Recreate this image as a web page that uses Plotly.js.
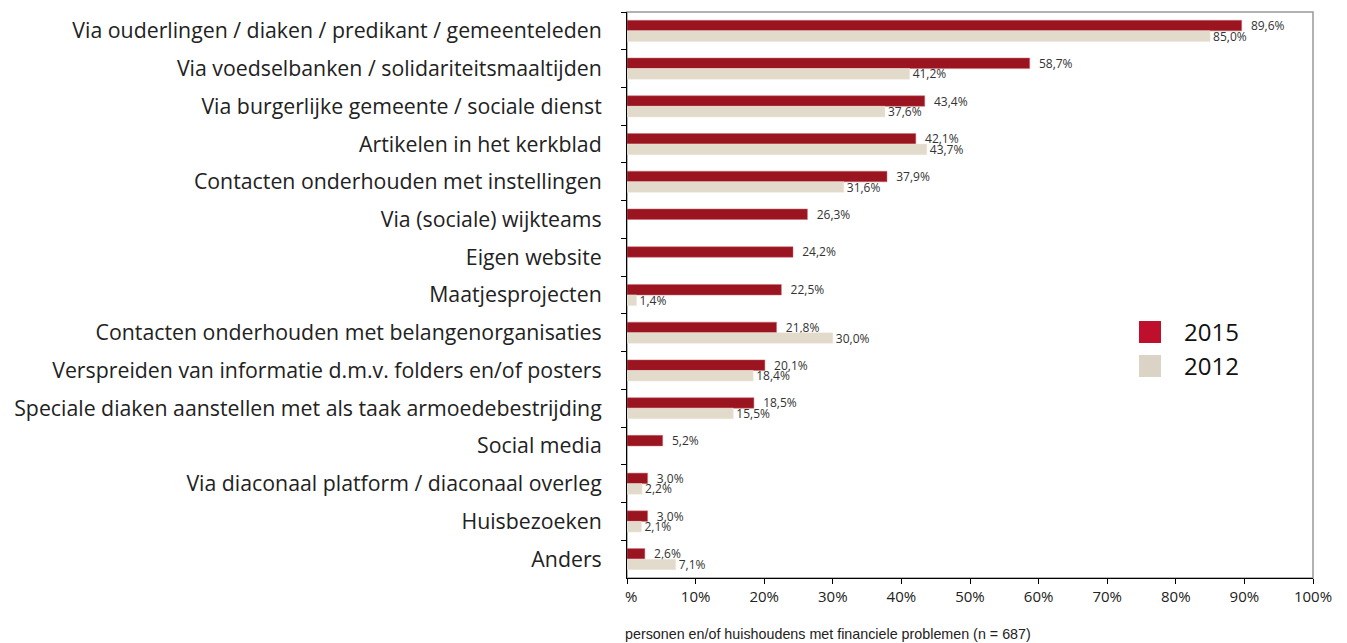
<!DOCTYPE html>
<html>
<head>
<meta charset="utf-8">
<script src="https://cdn.plot.ly/plotly-3.0.1.min.js"></script>
<style>html,body{margin:0;padding:0;background:#fff;}#chart{width:1347px;height:643px;}</style>
</head>
<body>
<div id="chart"></div>
<script>
const categories = [
  "Via ouderlingen / diaken / predikant / gemeenteleden",
  "Via voedselbanken / solidariteitsmaaltijden",
  "Via burgerlijke gemeente / sociale dienst",
  "Artikelen in het kerkblad",
  "Contacten onderhouden met instellingen",
  "Via (sociale) wijkteams",
  "Eigen website",
  "Maatjesprojecten",
  "Contacten onderhouden met belangenorganisaties",
  "Verspreiden van informatie d.m.v. folders en/of posters",
  "Speciale diaken aanstellen met als taak armoedebestrijding",
  "Social media",
  "Via diaconaal platform / diaconaal overleg",
  "Huisbezoeken",
  "Anders"
];
const values2015 = [89.6, 58.7, 43.4, 42.1, 37.9, 26.3, 24.2, 22.5, 21.8, 20.1, 18.5, 5.2, 3.0, 3.0, 2.6];
const values2012 = [85.0, 41.2, 37.6, 43.7, 31.6, null, null, 1.4, 30.0, 18.4, 15.5, null, 2.2, 2.1, 7.1];
const seriesNames = ["2015", "2012"];
const tickValues = [0, 10, 20, 30, 40, 50, 60, 70, 80, 90, 100];
const tickLabels = tickValues.map(v => v + "%");
const axisTitle = "personen en/of huishoudens met financiele problemen (n = 687)";

const red = "#9B1520", beige = "#E2DACB";
const W = 1347, H = 643, L = 627, R = 34, T = 12, B = 65;
const pw = W - L - R, ph = H - T - B;
const px = x => (x - L) / pw;
const py = y => 1 - (y - T) / ph;

const traces = [
  {type: "bar", orientation: "h", name: seriesNames[0], y: categories, x: values2015,
   marker: {color: red, line: {color: "#C96A70", width: 0.5}},
   texttemplate: "\u00a0\u00a0%{x:.1f}%", textposition: "outside", cliponaxis: false,
   constraintext: "none",
   textfont: {family: "Open Sans", size: 12, color: "#333"}, hoverinfo: "x+y"},
  {type: "bar", orientation: "h", name: seriesNames[1], y: categories, x: values2012,
   marker: {color: beige, line: {color: "#EDE7DC", width: 0.5}},
   texttemplate: "%{x:.1f}%", textposition: "outside", cliponaxis: false,
   constraintext: "none",
   textfont: {family: "Open Sans", size: 12, color: "#333"}, hoverinfo: "x+y"}
];

const layout = {
  width: W, height: H,
  margin: {l: L, r: R, t: T, b: B, pad: 0},
  paper_bgcolor: "#fff", plot_bgcolor: "#fff",
  separators: ",.",
  barmode: "group", bargap: 0.44, bargroupgap: 0,
  showlegend: false,
  font: {family: "Open Sans", color: "#222"},
  xaxis: {range: [0, 100], tickvals: tickValues, ticktext: tickLabels,
          showgrid: false, zeroline: false, showline: true, linecolor: "#000", linewidth: 1,
          ticks: "outside", ticklen: 5, tickcolor: "#000",
          tickfont: {family: "Open Sans", size: 15, color: "#222"}},
  yaxis: {autorange: "reversed", showgrid: false, zeroline: false, showline: true,
          linecolor: "#000", linewidth: 1, ticks: "outside", ticklen: 5, tickcolor: "#000",
          tickson: "boundaries", ticklabelstandoff: 20,
          tickfont: {family: "Open Sans", size: 21.3, color: "#222"}},
  shapes: [
    {type: "rect", xref: "paper", yref: "paper", x0: 0, x1: 1, y0: 0, y1: 1,
     line: {color: "#999", width: 1.5}, layer: "below"},
    {type: "rect", xref: "paper", yref: "paper", x0: px(0), x1: px(625), y0: py(585), y1: py(643),
     fillcolor: "#fff", line: {width: 0}, layer: "above"},
    {type: "rect", xref: "paper", yref: "paper", x0: px(1139), x1: px(1161), y0: py(343), y1: py(321),
     fillcolor: "#BE0F2D", line: {width: 0}},
    {type: "rect", xref: "paper", yref: "paper", x0: px(1139), x1: px(1161), y0: py(377), y1: py(355),
     fillcolor: "#DCD3C7", line: {width: 0}}
  ],
  annotations: [
    {xref: "paper", yref: "paper", x: px(623), y: py(634), xanchor: "left", yanchor: "middle",
     text: axisTitle, showarrow: false, font: {family: "Liberation Sans", size: 14.3, color: "#222"}},
    {xref: "paper", yref: "paper", x: px(1182), y: py(331), xanchor: "left", yanchor: "middle",
     text: seriesNames[0], showarrow: false, font: {family: "Open Sans", size: 24, color: "#111"}},
    {xref: "paper", yref: "paper", x: px(1182), y: py(365), xanchor: "left", yanchor: "middle",
     text: seriesNames[1], showarrow: false, font: {family: "Open Sans", size: 24, color: "#111"}}
  ]
};

Plotly.newPlot("chart", traces, layout, {displayModeBar: false, staticPlot: true});
</script>
</body>
</html>
